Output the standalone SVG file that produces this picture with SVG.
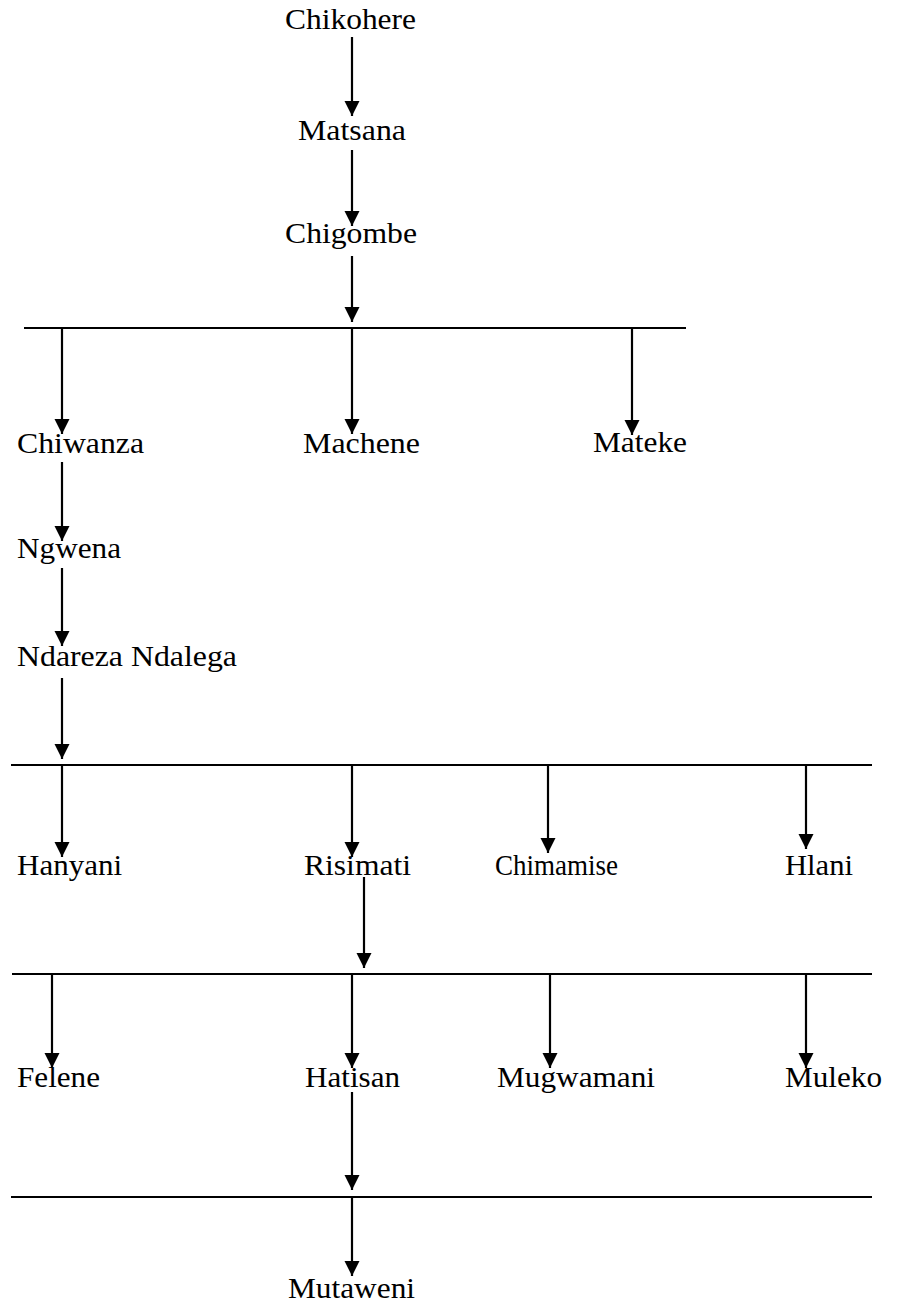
<svg xmlns="http://www.w3.org/2000/svg" width="899" height="1304" viewBox="0 0 899 1304">
<style>
text{font-family:"Liberation Serif","Times New Roman",serif;font-size:30px;fill:#000}
.c line{stroke:#000;stroke-width:2.2}
.a{marker-end:url(#ah)}
</style>
<defs>
<marker id="ah" markerUnits="userSpaceOnUse" markerWidth="16" markerHeight="16" refX="15" refY="8" orient="auto" viewBox="0 0 16 16">
<path d="M0,0.5 L15,8 L0,15.5 z" fill="#000"/>
</marker>
</defs>
<rect width="899" height="1304" fill="#fff"/>
<g class="c" id="connectors">
<line class="a" x1="352" y1="37" x2="352" y2="116"/>
<line class="a" x1="352" y1="150" x2="352" y2="226"/>
<line class="a" x1="352" y1="256" x2="352" y2="322"/>
<line x1="24" y1="328" x2="686" y2="328"/>
<line class="a" x1="62" y1="328" x2="62" y2="434"/>
<line class="a" x1="352" y1="328" x2="352" y2="434"/>
<line class="a" x1="632" y1="328" x2="632" y2="435"/>
<line class="a" x1="62" y1="462" x2="62" y2="541"/>
<line class="a" x1="62" y1="568" x2="62" y2="646"/>
<line class="a" x1="62" y1="678" x2="62" y2="759"/>
<line x1="11" y1="765" x2="872" y2="765"/>
<line class="a" x1="62" y1="765" x2="62" y2="857"/>
<line class="a" x1="352" y1="765" x2="352" y2="857"/>
<line class="a" x1="548" y1="765" x2="548" y2="853"/>
<line class="a" x1="806" y1="765" x2="806" y2="849"/>
<line class="a" x1="364" y1="877" x2="364" y2="968"/>
<line x1="12" y1="974" x2="872" y2="974"/>
<line class="a" x1="52" y1="974" x2="52" y2="1068"/>
<line class="a" x1="352" y1="974" x2="352" y2="1068"/>
<line class="a" x1="550" y1="974" x2="550" y2="1068"/>
<line class="a" x1="806" y1="974" x2="806" y2="1068"/>
<line class="a" x1="352" y1="1092" x2="352" y2="1190"/>
<line x1="11" y1="1197" x2="872" y2="1197"/>
<line class="a" x1="352" y1="1197" x2="352" y2="1276"/>
</g>
<g id="n-chikohere"><text x="285" y="29" textLength="131" lengthAdjust="spacingAndGlyphs">Chikohere</text></g>
<g id="n-matsana"><text x="298" y="140" textLength="108" lengthAdjust="spacingAndGlyphs">Matsana</text></g>
<g id="n-chigombe"><text x="285" y="243" textLength="132" lengthAdjust="spacingAndGlyphs">Chigombe</text></g>
<g id="n-chiwanza"><text x="17" y="453" textLength="127" lengthAdjust="spacingAndGlyphs">Chiwanza</text></g>
<g id="n-machene"><text x="303" y="453" textLength="117" lengthAdjust="spacingAndGlyphs">Machene</text></g>
<g id="n-mateke"><text x="593" y="452" textLength="94" lengthAdjust="spacingAndGlyphs">Mateke</text></g>
<g id="n-ngwena"><text x="17" y="558" textLength="104" lengthAdjust="spacingAndGlyphs">Ngwena</text></g>
<g id="n-ndareza"><text x="17" y="666" textLength="220" lengthAdjust="spacingAndGlyphs">Ndareza Ndalega</text></g>
<g id="n-hanyani"><text x="17" y="875" textLength="105" lengthAdjust="spacingAndGlyphs">Hanyani</text></g>
<g id="n-risimati"><text x="304" y="875" textLength="107" lengthAdjust="spacingAndGlyphs">Risimati</text></g>
<g id="n-chimamise"><text x="495" y="875" textLength="123" lengthAdjust="spacingAndGlyphs">Chimamise</text></g>
<g id="n-hlani"><text x="785" y="875" textLength="68" lengthAdjust="spacingAndGlyphs">Hlani</text></g>
<g id="n-felene"><text x="17" y="1087" textLength="83" lengthAdjust="spacingAndGlyphs">Felene</text></g>
<g id="n-hatisan"><text x="305" y="1087" textLength="95" lengthAdjust="spacingAndGlyphs">Hatisan</text></g>
<g id="n-mugwamani"><text x="497" y="1087" textLength="158" lengthAdjust="spacingAndGlyphs">Mugwamani</text></g>
<g id="n-muleko"><text x="785" y="1087" textLength="97" lengthAdjust="spacingAndGlyphs">Muleko</text></g>
<g id="n-mutaweni"><text x="288" y="1298" textLength="127" lengthAdjust="spacingAndGlyphs">Mutaweni</text></g>
</svg>
